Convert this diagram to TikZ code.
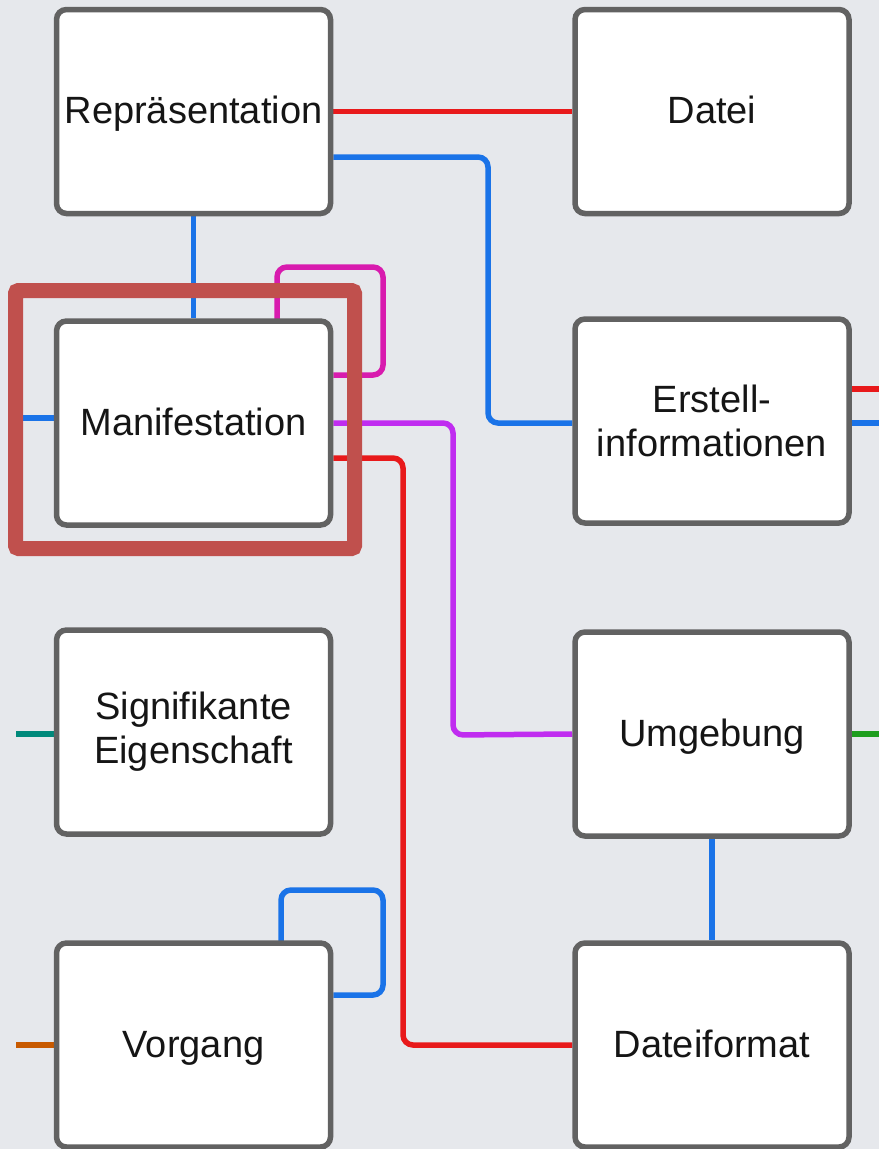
\documentclass[tikz,border=0pt]{standalone}
\usepackage{fontspec}
\setmainfont{Liberation Sans}
\usetikzlibrary{calc}
\definecolor{bg}{HTML}{E6E8EC}
\definecolor{boxgray}{HTML}{626262}
\definecolor{textc}{HTML}{151515}
\definecolor{cred}{HTML}{E8191B}
\definecolor{cblue}{HTML}{1A73E8}
\definecolor{cmag}{HTML}{D81BAE}
\definecolor{cpurple}{HTML}{C02CF0}
\definecolor{cteal}{HTML}{00897B}
\definecolor{cgreen}{HTML}{1E9E1E}
\definecolor{corange}{HTML}{C85A00}
\definecolor{hl}{HTML}{C0504D}
\pgfdeclarelayer{back}
\pgfdeclarelayer{lines}
\pgfdeclarelayer{front}
\pgfsetlayers{back,lines,main,front}
\begin{document}
\begin{tikzpicture}[x=1pt,y=-1pt,
  box/.style={draw=boxgray, line width=5.5pt, fill=white, rounded corners=10pt,
    minimum width=274pt, minimum height=204pt, inner sep=0pt, align=center,
    font=\fontsize{38}{44}\selectfont, text=textc},
  oneline/.style={text height=24pt, text depth=0pt},
  conn/.style={line width=5.5pt, rounded corners=10pt}]
\begin{pgfonlayer}{back}
\fill[bg] (0,0) rectangle (879,1149);
\end{pgfonlayer}
\useasboundingbox (0,0) rectangle (879,1149);

\node[box,oneline] (rep) at (193.5,111.5) {Repräsentation};
\node[box,oneline] (datei) at (712,111.5) {Datei};
\node[box,oneline] (man) at (193.5,423) {Manifestation};
\node[box] (erst) at (712,421) {Erstell-\\informationen};
\node[box] (sig) at (193.5,732) {Signifikante\\Eigenschaft};
\node[box,oneline] (umg) at (712,734) {Umgebung};
\node[box,oneline] (vor) at (193.5,1045) {Vorgang};
\node[box,oneline] (dfm) at (712,1045) {Dateiformat};

\coordinate (manL) at (23,418);
\coordinate (erstR1) at (879,389);
\coordinate (erstR2) at (879,423);
\coordinate (sigL) at (16,734);
\coordinate (umgR) at (879,734);
\coordinate (vorL) at (16,1045);

\begin{pgfonlayer}{lines}
\draw[conn,cred] (rep.east) -- (datei.west);
\draw[conn,cblue] ($(rep.east)+(0,45.5)$) -- (488,157) -- (488,423) -- (erst.west |- erstR2);
\draw[conn,cblue] (rep.south) -- (man.north);
\draw[conn,cmag] (277,321) -- (277,267) -- (383,267) -- (383,375) -- ($(man.east)+(0,-48)$);
\draw[conn,cpurple] (man.east) -- (453,423) -- (453,735) -- (umg.west);
\draw[conn,cred] ($(man.east)+(0,35)$) -- (403,458) -- (403,1045) -- (dfm.west);
\draw[conn,cblue] (manL) -- (man.west |- manL);
\draw[conn,cred] (erst.east |- erstR1) -- (erstR1);
\draw[conn,cblue] (erst.east |- erstR2) -- (erstR2);
\draw[conn,cteal] (sigL) -- (sig.west |- sigL);
\draw[conn,cgreen] (umg.east) -- (umgR);
\draw[conn,cblue] (umg.south) -- (dfm.north);
\draw[conn,cblue] (281,943) -- (281,890) -- (383,890) -- (383,995) -- ($(vor.east)+(0,-50)$);
\draw[conn,corange] (vorL) -- (vor.west);
\end{pgfonlayer}

\begin{pgfonlayer}{front}
\draw[hl, line width=15pt, rounded corners=3pt] (15.5,290.5) rectangle (354.5,548.5);
\end{pgfonlayer}
\end{tikzpicture}
\end{document}
